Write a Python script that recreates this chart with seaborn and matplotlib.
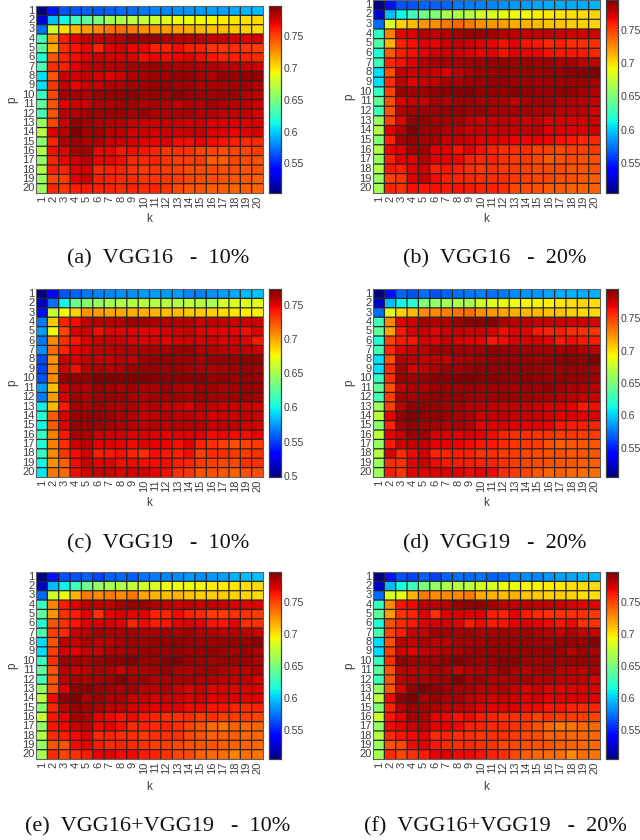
import numpy as np
import matplotlib
matplotlib.use('Agg')
import matplotlib.pyplot as plt
import seaborn as sns

# accuracy x 1000, rows are p=1..20, columns are k=1..20
vgg16_10 = [
[503,545,565,565,568,566,568,570,572,575,578,580,582,583,585,587,587,590,592,595],
[525,595,612,630,640,650,665,668,672,675,680,685,690,690,693,695,697,700,702,703],
[572,680,703,715,722,728,735,738,733,727,725,722,720,718,715,712,712,708,706,703],
[630,725,763,772,780,780,783,785,790,790,790,785,783,783,783,780,780,775,773,775],
[638,718,757,765,770,760,772,775,770,770,762,762,768,762,762,755,755,757,755,752],
[618,745,760,768,772,778,775,775,773,768,770,768,770,772,768,765,762,762,762,758],
[632,758,762,772,780,783,785,785,788,788,790,788,786,786,785,785,783,782,780,778],
[605,745,778,775,780,775,772,778,785,787,788,788,790,790,787,785,790,790,792,793],
[605,755,780,770,778,778,785,785,787,788,790,790,788,788,785,786,786,788,788,785],
[625,750,788,788,785,790,792,793,795,790,790,790,795,790,789,788,790,790,785,783],
[640,745,772,778,777,785,785,788,788,785,786,785,780,785,784,788,785,782,782,778],
[630,745,782,785,788,788,790,790,787,790,785,785,786,786,784,784,780,780,780,775],
[660,750,778,792,788,785,785,785,780,778,778,780,778,775,778,773,773,773,773,775],
[672,772,782,798,787,788,782,782,776,778,776,778,777,778,780,772,772,770,772,775],
[655,760,785,790,785,785,778,778,775,772,770,772,768,768,770,768,765,762,758,758],
[668,768,772,788,788,770,770,765,768,765,760,755,756,756,750,750,748,750,750,752],
[658,760,770,777,782,770,770,768,758,758,760,755,752,752,752,742,742,750,748,745],
[668,762,760,773,775,758,762,760,756,752,755,752,752,748,748,748,747,748,746,745],
[660,750,753,772,778,762,760,758,758,755,755,755,752,750,748,747,745,745,744,742],
[663,760,755,762,764,762,762,758,760,758,760,755,748,746,745,742,742,740,742,740],
]
vgg16_20 = [
[503,545,565,565,570,568,570,575,577,578,580,582,584,586,588,590,590,590,590,592],
[525,595,612,628,645,652,665,668,670,680,682,688,690,692,695,697,698,700,702,703],
[572,683,705,712,722,726,733,737,733,725,722,720,716,715,712,710,710,706,705,703],
[622,730,770,772,782,780,782,788,790,790,786,782,780,778,780,780,778,775,775,775],
[635,715,760,765,772,768,775,778,775,772,768,765,770,764,762,758,760,755,755,755],
[618,742,760,765,770,775,775,775,772,768,770,765,772,768,768,765,762,762,762,758],
[628,758,765,772,782,785,785,785,788,788,790,790,788,788,787,787,784,785,780,780],
[605,745,778,775,780,776,772,780,785,788,788,790,790,789,787,790,790,792,793,795],
[605,755,780,770,778,778,785,785,788,788,790,790,788,788,786,786,786,788,788,785],
[625,750,788,785,787,790,792,793,795,790,790,790,793,790,789,788,790,790,785,783],
[640,745,772,778,777,785,783,788,788,785,785,785,778,785,786,788,782,782,780,778],
[630,745,782,785,788,788,790,790,787,790,785,785,786,786,784,784,780,780,780,775],
[660,750,772,790,790,785,785,785,780,776,778,780,778,775,778,773,773,773,773,775],
[668,770,782,798,787,788,782,782,776,778,776,778,777,778,780,772,772,770,772,775],
[652,760,785,790,785,785,778,778,775,772,772,772,768,768,770,768,765,762,758,758],
[668,768,772,788,788,770,770,765,770,765,760,755,756,756,750,750,748,750,750,752],
[658,760,770,772,782,770,770,768,760,758,760,755,752,752,747,742,745,747,745,745],
[668,762,760,770,775,760,764,760,756,752,755,752,752,750,748,747,747,744,744,745],
[660,750,753,770,778,766,760,758,758,755,755,755,752,750,747,747,745,745,742,741],
[663,760,755,765,764,765,762,765,762,760,760,757,748,746,745,742,742,740,740,740],
]
vgg19_10 = [
[498,530,556,560,565,568,570,572,572,575,575,575,575,570,568,572,575,578,582,585],
[515,562,600,630,640,645,650,652,655,657,655,655,655,658,655,650,665,668,668,670],
[535,660,675,688,705,703,700,700,698,698,695,693,693,690,690,688,685,682,680,678],
[565,690,738,745,758,760,760,760,765,765,762,760,760,760,755,758,757,755,755,755],
[575,675,728,752,754,745,750,748,750,748,748,752,754,755,748,748,748,748,745,750],
[565,708,735,743,750,755,757,755,750,750,752,748,752,754,752,754,750,752,750,742],
[572,718,738,748,754,758,760,760,762,763,763,763,767,767,760,760,758,758,758,756],
[552,705,757,752,758,758,757,760,758,767,768,768,767,767,763,768,768,768,770,770],
[550,708,754,745,760,762,760,762,765,767,767,765,767,763,762,762,762,765,767,765],
[555,708,768,768,768,773,773,772,773,772,771,770,770,770,770,767,767,767,768,766],
[575,692,755,762,760,766,764,762,764,762,762,766,762,760,765,764,762,764,766,765],
[565,703,752,765,762,766,766,767,763,762,765,764,765,763,767,765,764,765,768,765],
[598,693,742,763,762,765,763,762,762,758,760,756,755,750,758,757,754,755,755,754],
[606,722,752,766,768,768,766,762,760,756,758,760,758,758,756,752,755,755,758,757],
[600,722,750,768,765,767,764,762,760,758,760,758,760,760,760,755,758,758,754,754],
[612,712,742,763,762,755,755,755,750,753,750,748,750,750,750,745,747,745,745,748],
[604,712,735,755,758,748,750,748,746,750,748,747,744,750,738,735,730,726,730,732],
[610,708,732,745,752,740,742,744,738,735,745,742,740,745,730,735,735,732,732,734],
[600,706,720,745,755,748,750,745,746,745,745,745,740,738,732,730,728,728,735,735],
[595,714,718,745,752,755,756,750,752,754,748,745,735,733,724,726,723,720,726,726],
]
vgg19_20 = [
[503,545,570,566,572,566,570,574,576,578,575,576,582,584,585,588,590,592,590,592],
[525,595,612,620,650,658,662,667,665,680,685,688,690,692,692,695,697,700,703,700],
[572,685,705,712,725,726,730,733,735,725,722,718,715,712,712,710,708,705,702,702],
[630,728,770,775,785,782,783,789,792,792,793,783,780,780,778,778,775,775,775,773],
[640,718,762,773,775,768,775,777,775,775,772,765,770,768,762,758,760,755,755,752],
[620,748,760,763,773,770,777,773,770,768,762,765,772,772,772,770,762,765,762,760],
[630,758,772,778,780,786,787,786,787,787,790,788,788,786,786,785,785,786,782,780],
[605,745,782,780,778,780,778,784,785,788,790,790,790,789,786,790,792,792,790,795],
[605,756,785,772,778,782,786,786,788,790,790,790,790,790,788,787,787,788,788,787],
[625,755,787,785,788,791,792,793,793,792,792,790,790,791,788,788,790,788,788,785],
[640,745,778,782,782,786,786,787,788,785,785,786,785,786,786,790,785,783,783,780],
[630,750,785,785,788,790,790,790,788,786,785,789,788,786,785,784,782,780,778,776],
[662,750,780,790,790,788,785,785,781,780,778,778,778,777,775,772,772,768,762,765],
[672,770,790,796,790,789,786,784,784,775,777,780,776,778,777,774,770,772,770,772],
[655,758,785,790,785,785,782,784,782,768,770,772,768,768,770,768,762,760,760,758],
[672,768,775,788,786,772,772,770,772,770,765,758,755,755,752,754,750,752,750,750],
[658,762,775,778,778,770,768,767,765,762,762,756,752,752,750,745,740,742,742,742],
[670,772,756,766,773,758,758,760,758,752,755,750,750,748,746,745,745,742,742,742],
[660,755,755,770,775,766,762,760,760,758,758,755,750,748,746,745,742,742,740,740],
[662,760,752,768,770,770,772,770,766,768,766,755,750,748,742,738,740,737,736,736],
]
both_10 = [
[505,545,565,565,570,562,570,572,570,575,578,580,582,585,582,585,588,592,595,597],
[525,595,612,630,645,660,668,670,675,683,685,690,692,692,695,697,697,700,702,703],
[572,680,690,715,732,728,733,728,735,720,716,712,715,710,708,708,708,705,705,703],
[625,730,762,772,782,780,780,787,790,790,785,780,778,780,778,780,778,775,772,773],
[640,725,755,762,772,755,770,775,770,772,760,760,768,760,758,752,752,755,755,752],
[618,745,755,765,772,775,775,772,760,768,762,765,770,772,770,765,765,770,757,755],
[632,752,758,778,782,787,786,785,787,785,785,787,785,787,784,784,780,783,780,778],
[605,745,782,778,785,780,782,786,788,788,790,790,792,790,788,788,790,791,790,793],
[605,752,775,770,778,778,785,785,786,788,789,790,790,787,789,790,788,786,788,785],
[625,757,790,787,786,790,792,793,795,790,790,794,795,790,789,789,790,790,788,785],
[640,745,782,778,782,786,785,778,783,785,787,790,785,784,786,788,784,782,782,785],
[630,745,780,786,785,786,789,795,787,790,784,785,786,786,784,784,780,780,780,775],
[660,745,772,792,793,790,787,785,788,780,780,785,778,772,778,772,772,772,772,774],
[672,768,792,796,785,790,785,785,778,778,775,778,776,772,776,770,772,772,772,772],
[655,760,782,790,787,785,780,780,774,772,770,772,772,768,768,765,765,760,758,760],
[678,765,770,787,785,770,768,765,768,762,760,755,755,758,752,755,752,752,752,750],
[658,765,768,778,780,768,770,766,758,760,758,760,756,750,745,738,735,740,738,738],
[670,758,762,768,772,758,760,757,756,752,755,755,755,748,745,740,742,742,738,738],
[660,745,745,768,773,762,758,760,758,755,752,752,748,746,745,745,742,740,740,738],
[665,758,750,757,762,770,772,768,768,762,760,755,750,748,740,738,737,730,737,735],
]
both_20 = [
[503,545,565,562,570,560,570,573,572,575,570,572,580,582,580,584,588,590,592,595],
[525,595,615,628,650,658,668,672,672,683,682,690,692,695,695,697,698,702,703,703],
[572,683,690,715,732,728,728,728,733,718,715,712,715,710,708,706,707,705,702,702],
[625,728,765,768,782,780,782,790,792,792,787,782,780,782,780,780,778,775,772,773],
[640,722,755,760,772,757,772,775,772,773,762,760,770,762,758,755,755,755,755,752],
[618,745,758,763,772,775,775,772,762,768,762,765,770,772,770,768,765,768,757,755],
[632,750,762,778,778,787,787,786,788,785,785,787,785,787,784,782,778,784,778,778],
[605,745,782,778,785,780,782,786,786,786,790,790,790,790,788,788,790,790,790,794],
[605,752,775,770,778,780,785,785,788,788,789,790,790,788,789,790,787,782,788,785],
[625,757,792,787,788,788,792,795,792,788,790,794,793,788,789,788,789,790,790,787],
[640,745,780,780,782,786,785,778,783,785,785,792,785,782,786,788,782,782,780,785],
[630,745,780,785,785,787,789,796,787,790,784,785,786,786,784,784,780,780,780,775],
[660,745,772,792,795,792,787,787,786,782,780,785,778,772,778,773,770,772,772,774],
[672,768,792,796,785,790,785,786,780,778,775,778,776,772,776,770,772,772,772,772],
[655,760,782,788,787,785,780,780,778,772,770,772,772,768,768,765,765,760,758,760],
[678,765,770,787,785,770,768,765,768,762,760,755,755,755,750,755,752,752,752,750],
[658,768,770,778,780,770,770,768,760,760,758,758,755,752,745,738,732,735,738,738],
[670,758,765,768,770,758,760,756,756,753,755,755,753,748,747,740,742,738,738,738],
[660,745,748,768,772,765,758,757,758,755,755,748,748,746,745,745,742,740,738,738],
[665,758,750,757,762,770,772,768,768,766,760,755,748,742,738,738,737,728,737,735],
]

panels = [vgg16_10, vgg16_20, vgg19_10, vgg19_20, both_10, both_20]
captions = ['(a)  VGG16   -  10%', '(b)  VGG16   -  20%', '(c)  VGG19   -  10%',
            '(d)  VGG19   -  20%', '(e)  VGG16+VGG19   -  10%', '(f)  VGG16+VGG19   -  20%']
vmins = [0.503, 0.504, 0.498, 0.505, 0.505, 0.505]
vmaxs = [0.798, 0.796, 0.7735, 0.795, 0.797, 0.797]
cbar_ticks = [0.55, 0.6, 0.65, 0.7, 0.75]
cbar_ticks_c = [0.5, 0.55, 0.6, 0.65, 0.7, 0.75]
k_labels = [str(i) for i in range(1, 21)]
p_labels = [str(i) for i in range(1, 21)]

W, H = 640, 840
# pixel boxes: heatmap left, top, bottom
lefts = [36, 373, 36, 373, 36, 373]
tops = [6, 0, 289, 289, 572, 572]
bottoms = [193, 193, 477, 477, 759, 759]
k_y = [219, 219, 503, 503, 787, 787]
cap_y = [259, 259, 544, 544, 827, 827]
grey = '#404040'

sns.set_theme(style='white')
plt.rcParams['font.family'] = ['Liberation Sans', 'DejaVu Sans']

fig = plt.figure(figsize=(W / 100, H / 100), dpi=100)

for i in range(6):
    l, t, b = lefts[i], tops[i], bottoms[i]
    ax = fig.add_axes([l / W, 1 - b / H, 227 / W, (b - t) / H])
    cax = fig.add_axes([(l + 233) / W, 1 - b / H, 12 / W, (b - t) / H])
    data = np.array(panels[i]) / 1000
    sns.heatmap(data, ax=ax, cbar_ax=cax, cmap='jet', vmin=vmins[i], vmax=vmaxs[i],
                linewidths=0, square=False,
                xticklabels=k_labels, yticklabels=p_labels)
    # cell borders, left unsnapped so every row gets a line of the same weight
    ax.hlines(np.arange(1, 20), 0, 20, color='#262626', linewidth=0.9, snap=False)
    ax.vlines(np.arange(1, 20), 0, 20, color='#262626', linewidth=0.9, snap=False)
    ax.tick_params(axis='x', length=0, labelsize=8, colors=grey, labelrotation=90, pad=2)
    ax.tick_params(axis='y', length=0, labelsize=8, colors=grey, labelrotation=0, pad=1)
    ax.set_xlabel('')
    ax.set_ylabel('')
    for s in ax.spines.values():
        s.set_visible(True)
        s.set_color('#606060')
        s.set_linewidth(0.8)

    fig.text((l + 113) / W, 1 - k_y[i] / H, 'k', fontsize=8.5, color=grey, ha='center', va='center')
    fig.text((l - 24) / W, 1 - (t + b) / 2 / H, 'p', fontsize=8.5, color=grey, rotation=90,
             ha='center', va='center')

    ticks = cbar_ticks_c if i == 2 else cbar_ticks
    cax.set_yticks(ticks)
    cax.set_yticklabels([f'{v:g}' for v in ticks])
    cax.tick_params(axis='y', direction='in', length=2, width=0.5, labelsize=7.6,
                    colors=grey, pad=2.2, right=True)
    for s in cax.spines.values():
        s.set_visible(True)
        s.set_color('#404040')
        s.set_linewidth(0.8)

    fig.text((l + 122) / W, 1 - cap_y[i] / H, captions[i], family=['Liberation Serif', 'DejaVu Serif'],
             fontsize=16, color='#111111', ha='center', va='center')

fig.savefig('out.png', dpi=100)
